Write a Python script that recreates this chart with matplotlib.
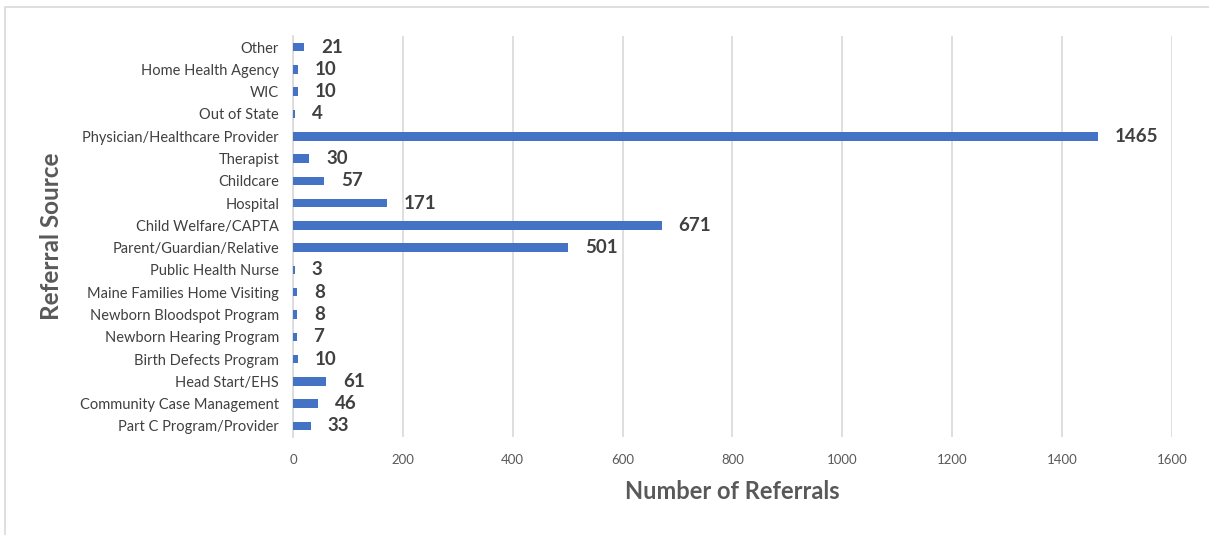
import matplotlib
matplotlib.use("Agg")
import matplotlib.pyplot as plt
from matplotlib.patches import Rectangle

plt.rcParams['font.family'] = ['Lato', 'DejaVu Sans']

# referral sources, listed bottom to top
sources = ["Part C Program/Provider", "Community Case Management", "Head Start/EHS",
           "Birth Defects Program", "Newborn Hearing Program", "Newborn Bloodspot Program",
           "Maine Families Home Visiting", "Public Health Nurse", "Parent/Guardian/Relative",
           "Child Welfare/CAPTA", "Hospital", "Childcare", "Therapist",
           "Physician/Healthcare Provider", "Out of State", "WIC", "Home Health Agency", "Other"]
referrals = [33, 46, 61, 10, 7, 8, 8, 3, 501, 671, 171, 57, 30, 1465, 4, 10, 10, 21]
xticks = [0, 200, 400, 600, 800, 1000, 1200, 1400, 1600]

fig = plt.figure(figsize=(12.09, 5.35), dpi=100)
fig.patches.append(Rectangle((0.004, -0.01), 1.0, 0.996, transform=fig.transFigure,
                             fill=False, edgecolor='#d9d9d9', linewidth=1.2))
ax = fig.add_axes([0.2423, 0.183, 0.727, 0.7497])

y = range(len(sources))
ax.barh(y, referrals, height=0.38, color='#4472c4', zorder=3)
for yi, v in zip(y, referrals):
    ax.annotate(str(v), (v, yi), xytext=(12, 0), textcoords='offset points',
                va='center', ha='left', fontsize=13.5, fontweight='bold', color='#404040')

ax.set_xlim(0, 1600)
ax.set_ylim(-0.5, len(sources) - 0.5)
ax.set_xticks(xticks)
ax.set_xticklabels([str(t) for t in xticks], fontsize=9.5, color='#595959')
ax.set_yticks(list(y))
ax.set_yticklabels(sources, fontsize=10.5, color='#404040')
ax.tick_params(axis='both', length=0)
ax.tick_params(axis='x', pad=12)
ax.tick_params(axis='y', pad=10)
ax.grid(axis='x', color='#d9d9d9', linewidth=1.2, zorder=0)
for s in ['top', 'right', 'bottom']:
    ax.spines[s].set_visible(False)
ax.spines['left'].set_color('#d9d9d9')
ax.spines['left'].set_linewidth(1.2)

ax.set_xlabel("Number of Referrals", fontsize=17, fontweight='bold', color='#595959', labelpad=10)
ax.set_ylabel("Referral Source", fontsize=17.5, fontweight='bold', color='#595959', labelpad=12)

fig.savefig("out.png", dpi=100)
